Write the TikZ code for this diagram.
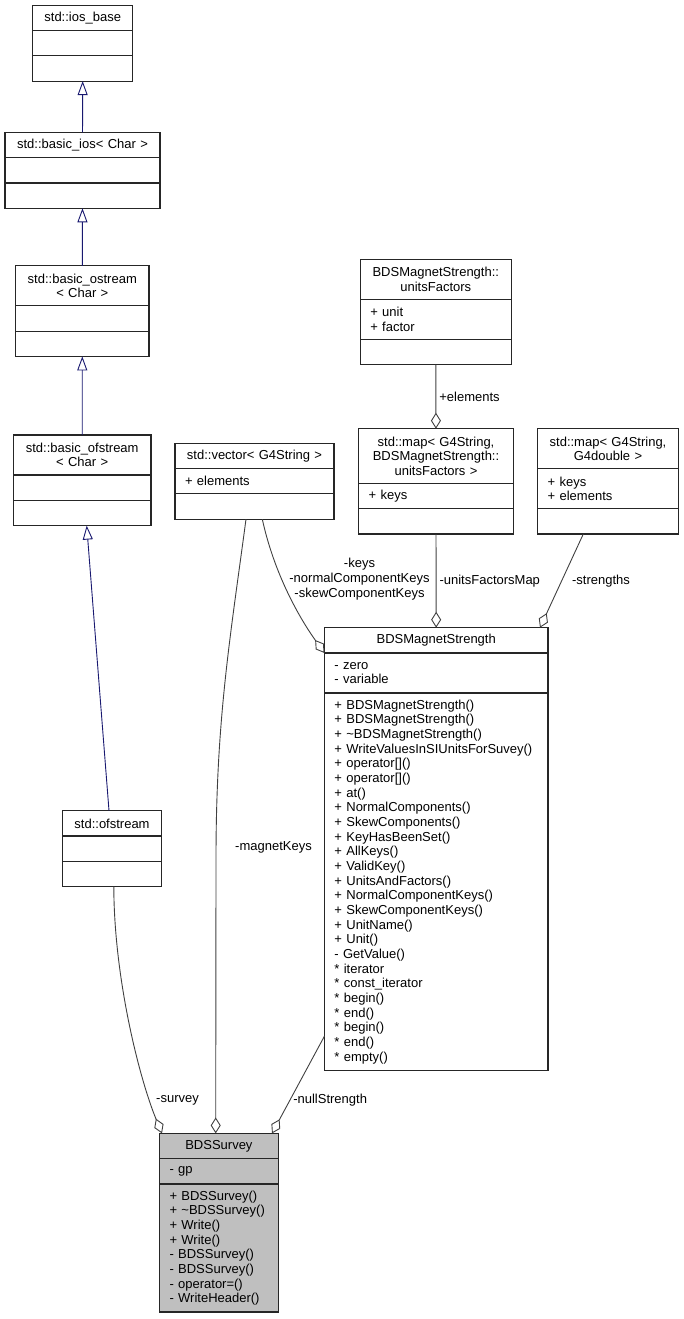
\documentclass[tikz,border=0pt]{standalone}
\usepackage{fontspec}
\setmainfont{Liberation Sans}
\usetikzlibrary{arrows.meta,positioning}
\definecolor{edgegray}{HTML}{404040}
\definecolor{inhblue}{HTML}{191970}
\tikzset{
    cls/.style={draw=black!85, line width=1.1pt, inner xsep=10pt, inner ysep=0pt, outer sep=0pt,
        text width=#1pt, minimum height=25.3pt, align=left},
    ttl/.style={cls=#1, align=center},
    rows/.style={minimum height=#1pt},
    self/.style={fill=black!25},
    inherit/.style={draw=inhblue, line width=0.9pt, -{Triangle[open, length=14pt, width=10pt]}},
    usage/.style={draw=edgegray, line width=0.9pt, -{Diamond[open, length=16pt, width=10pt]}},
    lbl/.style={inner sep=0pt, align=center}
}

\begin{document}
\begin{tikzpicture}[x=1pt, y=-1pt, every node/.style={font=\fontsize{13}{14.67}\selectfont}]
    \useasboundingbox (0,0) rectangle (683,1319);

    % stream hierarchy
    \node[ttl=80, anchor=north] (iosBase) at (82.7,5.2) {std::ios\_base};
    \node[cls=80, below=0pt of iosBase] (iosBaseA) {};
    \node[cls=80, below=0pt of iosBaseA] (iosBaseM) {};

    \node[ttl=135, anchor=north] (basicIos) at (82.5,132.4) {std::basic\_ios< Char >};
    \node[cls=135, below=0pt of basicIos] (basicIosA) {};
    \node[cls=135, below=0pt of basicIosA] (basicIosM) {};

    \node[ttl=113.3, rows=40, anchor=north] (basicOstream) at (82.3,265.8) {std::basic\_ostream\\< Char >};
    \node[cls=113.3, below=0pt of basicOstream] (basicOstreamA) {};
    \node[cls=113.3, below=0pt of basicOstreamA] (basicOstreamM) {};

    \node[ttl=117.5, rows=40, anchor=north] (basicOfstream) at (82.2,435) {std::basic\_ofstream\\< Char >};
    \node[cls=117.5, below=0pt of basicOfstream] (basicOfstreamA) {};
    \node[cls=117.5, below=0pt of basicOfstreamA] (basicOfstreamM) {};

    \node[ttl=78.6, anchor=north] (ofstream) at (112,810.7) {std::ofstream};
    \node[cls=78.6, below=0pt of ofstream] (ofstreamA) {};
    \node[cls=78.6, below=0pt of ofstreamA] (ofstreamM) {};

    % containers
    \node[ttl=131, rows=40, anchor=north] (unitsFactors) at (435.8,259.3) {BDSMagnetStrength::\\unitsFactors};
    \node[cls=131, rows=40, below=0pt of unitsFactors] (unitsFactorsA) {+ unit\\+ factor};
    \node[cls=131, below=0pt of unitsFactorsA] (unitsFactorsM) {};

    \node[ttl=134.6, rows=54.7, anchor=north] (unitsMap) at (436,428.7) {std::map< G4String,\\BDSMagnetStrength::\\unitsFactors >};
    \node[cls=134.6, below=0pt of unitsMap] (unitsMapA) {+ keys};
    \node[cls=134.6, below=0pt of unitsMapA] (unitsMapM) {};

    \node[ttl=120.6, rows=40, anchor=north] (strengthMap) at (608,428.7) {std::map< G4String,\\G4double >};
    \node[cls=120.6, rows=40, below=0pt of strengthMap] (strengthMapA) {+ keys\\+ elements};
    \node[cls=120.6, below=0pt of strengthMapA] (strengthMapM) {};

    \node[ttl=139, anchor=north] (keyVector) at (254.5,443.3) {std::vector< G4String >};
    \node[cls=139, below=0pt of keyVector] (keyVectorA) {+ elements};
    \node[cls=139, below=0pt of keyVectorA] (keyVectorM) {};

    % BDSMagnetStrength
    \node[ttl=203.5, anchor=north] (magnet) at (436.2,627.7) {BDSMagnetStrength};
    \node[cls=203.5, rows=40, below=0pt of magnet] (magnetA) {- zero\\- variable};
    \node[cls=203.5, rows=377.4, below=0pt of magnetA] (magnetM) {+ BDSMagnetStrength()\\+ BDSMagnetStrength()\\+ \textasciitilde BDSMagnetStrength()\\+ WriteValuesInSIUnitsForSuvey()\\+ operator[]()\\+ operator[]()\\+ at()\\+ NormalComponents()\\+ SkewComponents()\\+ KeyHasBeenSet()\\+ AllKeys()\\+ ValidKey()\\+ UnitsAndFactors()\\+ NormalComponentKeys()\\+ SkewComponentKeys()\\+ UnitName()\\+ Unit()\\- GetValue()\\{*} iterator\\{*} const\_iterator\\{*} begin()\\{*} end()\\{*} begin()\\{*} end()\\{*} empty()};

    % BDSSurvey
    \node[ttl=98.8, self, anchor=north] (survey) at (218.9,1133.4) {BDSSurvey};
    \node[cls=98.8, self, below=0pt of survey] (surveyA) {- gp};
    \node[cls=98.8, self, rows=128, below=0pt of surveyA] (surveyM) {+ BDSSurvey()\\+ \textasciitilde BDSSurvey()\\+ Write()\\+ Write()\\- BDSSurvey()\\- BDSSurvey()\\- operator=()\\- WriteHeader()};

    % inheritance
    \draw[inherit] (basicIos) -- (iosBaseM);
    \draw[inherit] (basicOstream) -- (basicIosM);
    \draw[inherit] (basicOfstream) -- (basicOstreamM);
    \draw[inherit] ([xshift=-3pt]ofstream.north) -- ([xshift=4.5pt]basicOfstreamM.south);

    % members
    \draw[usage] (unitsFactorsM) -- node[lbl, right=3pt] {+elements} (unitsMap);
    \draw[usage] (unitsMapM) -- node[lbl, right=3pt] {-unitsFactorsMap} (magnet);
    \draw[usage] ([xshift=-24.7pt]strengthMapM.south) -- node[lbl, right=10pt] {-strengths} ([xshift=103.8pt]magnet.north);
    \draw[usage] ([xshift=7.8pt]keyVectorM.south) .. controls +(12,55) and +(-25,-35) .. (magnetA.north west);
    \node[lbl] (keysLbl) at (359.5,579) {-keys\\-normalComponentKeys\\-skewComponentKeys};
    \draw[usage] ([xshift=-8.5pt]keyVectorM.south) .. controls +(-16,120) and +(0,-140) .. ++(-30,340) -- ([xshift=-3.2pt]survey.north);
    \node[lbl, anchor=west] (magnetKeysLbl) at (235,847.3) {-magnetKeys};
    \draw[usage] ([xshift=1.8pt]ofstreamM.south) .. controls +(0.2,93) and +(-22,-53) .. ([xshift=-56.9pt]survey.north);
    \node[lbl, anchor=west] (surveyLbl) at (156,1100.4) {-survey};
    \draw[usage] ([yshift=-154.4pt]magnetM.west) -- node[lbl, pos=0.66, right=3pt] {-nullStrength} ([xshift=53.1pt]survey.north);
\end{tikzpicture}
\end{document}
